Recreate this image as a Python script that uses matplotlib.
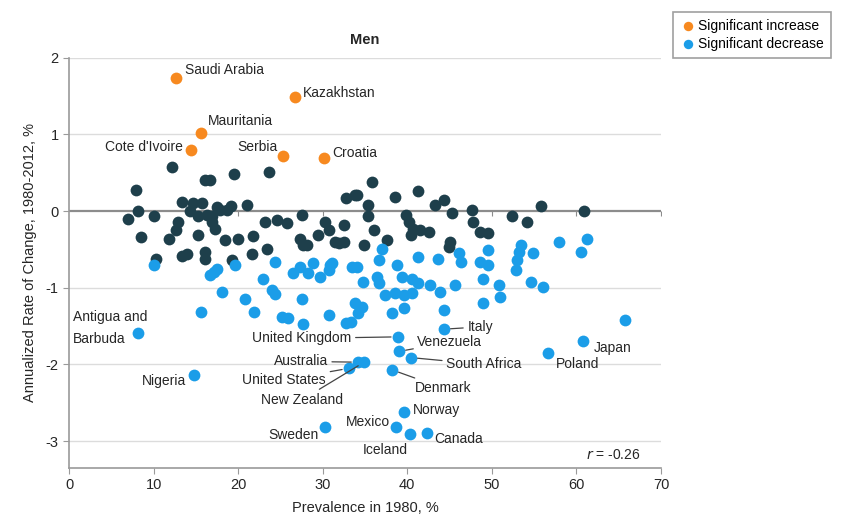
import matplotlib.pyplot as plt

plt.rcParams['font.family'] = ['Liberation Sans', 'DejaVu Sans']

# Prevalence in 1980 (%) and annualized rate of change (%) per country
ns_x = [7.0, 7.9, 8.2, 8.5, 10.0, 10.3, 11.8, 12.2, 12.7, 12.9, 13.3, 13.3, 13.9,
        14.3, 14.7, 15.2, 15.3, 15.7, 16.1, 16.7, 16.1, 16.1, 16.3, 16.9, 16.9, 17.3,
        17.5, 17.9, 18.5, 18.7, 19.1, 19.5, 19.3, 20.0, 21.0, 21.6, 21.8, 23.2, 23.4,
        23.6, 24.6, 25.8, 27.3, 27.5, 27.7, 28.1, 29.5, 30.3, 30.7, 31.5, 31.9, 32.5,
        32.5, 32.7, 33.8, 34.0, 34.9, 35.4, 35.4, 35.8, 36.1, 37.6, 38.5, 39.8, 40.2,
        40.4, 40.7, 41.3, 41.5, 42.6, 43.3, 44.3, 45.1, 44.9, 45.3, 47.7, 47.8, 48.6,
        49.6, 52.4, 54.1, 55.8, 60.9]
ns_y = [-0.10, 0.28, 0.00, -0.34, -0.07, -0.62, -0.36, 0.57, -0.25, -0.14, 0.12, -0.59, -0.56,
        0.00, 0.10, -0.31, -0.07, 0.10, 0.40, 0.40, -0.53, -0.62, -0.05, -0.14, -0.07, -0.23,
        0.05, 0.01, -0.38, 0.02, 0.06, 0.49, -0.64, -0.36, 0.08, -0.56, -0.33, -0.14, -0.49,
        0.51, -0.12, -0.16, -0.36, -0.05, -0.44, -0.44, -0.31, -0.14, -0.25, -0.40, -0.42, -0.18,
        -0.40, 0.17, 0.21, 0.21, -0.44, 0.08, -0.07, 0.38, -0.25, -0.38, 0.19, -0.05, -0.14,
        -0.31, -0.23, 0.26, -0.25, -0.27, 0.08, 0.14, -0.40, -0.47, -0.03, 0.01, -0.14, -0.27,
        -0.28, -0.07, -0.14, 0.06, 0.00]

dec_x = [10.1, 15.6, 16.7, 17.1, 17.5, 18.1, 19.6, 20.8, 21.9, 22.9, 24.0, 24.4, 24.4,
         25.2, 25.9, 26.5, 27.3, 27.6, 27.7, 28.3, 28.9, 29.7, 30.7, 30.9, 31.1, 30.7,
         32.7, 33.3, 33.5, 33.8, 34.0, 34.2, 34.7, 34.8, 36.4, 36.6, 36.6, 37.0, 37.4,
         38.6, 38.8, 39.4, 39.6, 40.6, 40.6, 38.2, 39.6, 41.3, 41.3, 42.7, 43.6, 43.9,
         44.3, 45.6, 46.1, 46.3, 48.6, 49.0, 49.0, 49.6, 49.6, 50.8, 51.0, 52.9, 53.0,
         53.2, 53.4, 54.6, 54.9, 56.1, 57.9, 60.5, 61.3, 65.8]
dec_y = [-0.70, -1.31, -0.83, -0.79, -0.75, -1.05, -0.70, -1.14, -1.31, -0.88, -1.03, -1.08, -0.66,
         -1.38, -1.40, -0.81, -0.73, -1.14, -1.47, -0.81, -0.68, -0.86, -0.77, -0.70, -0.68, -1.36,
         -1.46, -1.44, -0.73, -1.20, -0.73, -1.33, -1.25, -0.92, -0.86, -0.94, -0.64, -0.49, -1.09,
         -1.07, -0.70, -0.86, -1.10, -0.88, -1.07, -1.33, -1.27, -0.60, -0.94, -0.96, -0.62, -1.05,
         -1.29, -0.96, -0.55, -0.66, -0.66, -0.88, -1.20, -0.51, -0.70, -0.96, -1.12, -0.77, -0.64,
         -0.53, -0.44, -0.92, -0.54, -0.99, -0.40, -0.53, -0.37, -1.42]

inc_names = ['Saudi Arabia', 'Kazakhstan', 'Mauritania', "Cote d'Ivoire", 'Serbia', 'Croatia']
inc_x = [12.7, 26.7, 15.6, 14.4, 25.3, 30.2]
inc_y = [1.73, 1.49, 1.02, 0.80, 0.72, 0.69]

lab_names = ['Antigua and\nBarbuda', 'Nigeria', 'Sweden', 'United States', 'Australia',
             'New Zealand', 'United Kingdom', 'Venezuela', 'South Africa', 'Denmark', 'Italy',
             'Norway', 'Mexico', 'Iceland', 'Canada', 'Poland', 'Japan']
lab_x = [8.2, 14.8, 30.3, 33.1, 34.2, 34.9, 38.9, 39.0, 40.4, 38.2, 44.3,
         39.6, 38.7, 40.3, 42.3, 56.6, 60.8]
lab_y = [-1.59, -2.14, -2.81, -2.05, -1.97, -1.97, -1.64, -1.83, -1.91, -2.07, -1.54,
         -2.62, -2.82, -2.91, -2.90, -1.85, -1.70]

DARK = '#1e3f4b'
BLUE = '#1b9de8'
ORANGE = '#f7891f'
TXT = '#262626'

fig = plt.figure(figsize=(8.46, 5.2), dpi=100)
ax = fig.add_axes([0.0816, 0.1, 0.6997, 0.789])

for v in [2, 1, -1, -2, -3]:
    ax.axhline(v, color='#dcdcdc', lw=1, zorder=0)
ax.axhline(0, color='#8c8c8c', lw=1.6, zorder=1)
ax.scatter(range(10, 71, 10), [0] * 7, marker=3, s=12, color='#8c8c8c', lw=0.8, zorder=1)

ax.scatter(ns_x, ns_y, s=72, color=DARK, lw=0, zorder=2)
ax.scatter(dec_x + lab_x, dec_y + lab_y, s=72, color=BLUE, lw=0, zorder=3,
           label='Significant decrease')
ax.scatter(inc_x, inc_y, s=72, color=ORANGE, lw=0, zorder=3, label='Significant increase')

# label offsets (text position, alignment, leader line or not)
inc_pos = {
    'Saudi Arabia': (13.7, 1.84, 'left', False),
    'Kazakhstan': (27.7, 1.54, 'left', False),
    'Mauritania': (16.4, 1.17, 'left', False),
    "Cote d'Ivoire": (13.5, 0.83, 'right', False),
    'Serbia': (24.7, 0.83, 'right', False),
    'Croatia': (31.1, 0.76, 'left', False),
}
lab_pos = {
    'Antigua and\nBarbuda': (0.5, -1.52, 'left', False),
    'Nigeria': (13.8, -2.22, 'right', False),
    'Sweden': (29.5, -2.92, 'right', False),
    'United States': (30.4, -2.20, 'right', True),
    'Australia': (30.6, -1.96, 'right', True),
    'New Zealand': (32.4, -2.46, 'right', True),
    'United Kingdom': (33.4, -1.66, 'right', True),
    'Venezuela': (41.2, -1.71, 'left', True),
    'South Africa': (44.6, -2.00, 'left', True),
    'Denmark': (40.9, -2.31, 'left', True),
    'Italy': (47.1, -1.51, 'left', True),
    'Norway': (40.7, -2.60, 'left', False),
    'Mexico': (38.0, -2.75, 'right', False),
    'Iceland': (37.4, -3.12, 'center', False),
    'Canada': (43.2, -2.97, 'left', False),
    'Poland': (57.6, -2.00, 'left', False),
    'Japan': (62.0, -1.78, 'left', False),
}

def put_labels(names, xs, ys, pos):
    for n, px, py in zip(names, xs, ys):
        tx, ty, ha, leader = pos[n]
        kw = {}
        if leader:
            kw['arrowprops'] = dict(arrowstyle='-', color='#444444', lw=0.9,
                                    shrinkA=1, shrinkB=5)
        ax.annotate(n, xy=(px, py), xytext=(tx, ty), ha=ha, va='center',
                    fontsize=10, color=TXT, linespacing=1.7, zorder=4, **kw)

put_labels(inc_names, inc_x, inc_y, inc_pos)
put_labels(lab_names, lab_x, lab_y, lab_pos)

ax.text(67.6, -3.18, '$r$ = -0.26', ha='right', va='center', fontsize=10, color=TXT)

ax.set_xlim(0, 70)
ax.set_ylim(-3.35, 2)
ax.set_xticks(range(0, 71, 10))
ax.set_yticks([-3, -2, -1, 0, 1, 2])
ax.set_yticklabels(['-3', '-2', '-1', '0', '1', '2'])
for s in ['top', 'right']:
    ax.spines[s].set_visible(False)
for s in ['left', 'bottom']:
    ax.spines[s].set_color('#9a9a9a')
    ax.spines[s].set_linewidth(1.2)
ax.tick_params(colors='#9a9a9a', labelcolor=TXT, labelsize=10.5, length=4)

ax.set_title('Men', fontsize=10.5, fontweight='bold', color=TXT, pad=10)
ax.set_xlabel('Prevalence in 1980, %', fontsize=10.5, color=TXT, labelpad=6)
ax.set_ylabel('Annualized Rate of Change, 1980-2012, %', fontsize=10.5, color=TXT, labelpad=6)

handles, labels = ax.get_legend_handles_labels()
leg = fig.legend(handles[::-1], labels[::-1], loc='upper left',
                 bbox_to_anchor=(666 / 846, 1 - 5 / 520), fancybox=False,
                 edgecolor='#888888', fontsize=10, handletextpad=0.1,
                 borderpad=0.5, labelspacing=0.3, markerscale=0.8, handlelength=1.2)
leg.get_frame().set_linewidth(1.2)

fig.savefig('out.png', dpi=100)
